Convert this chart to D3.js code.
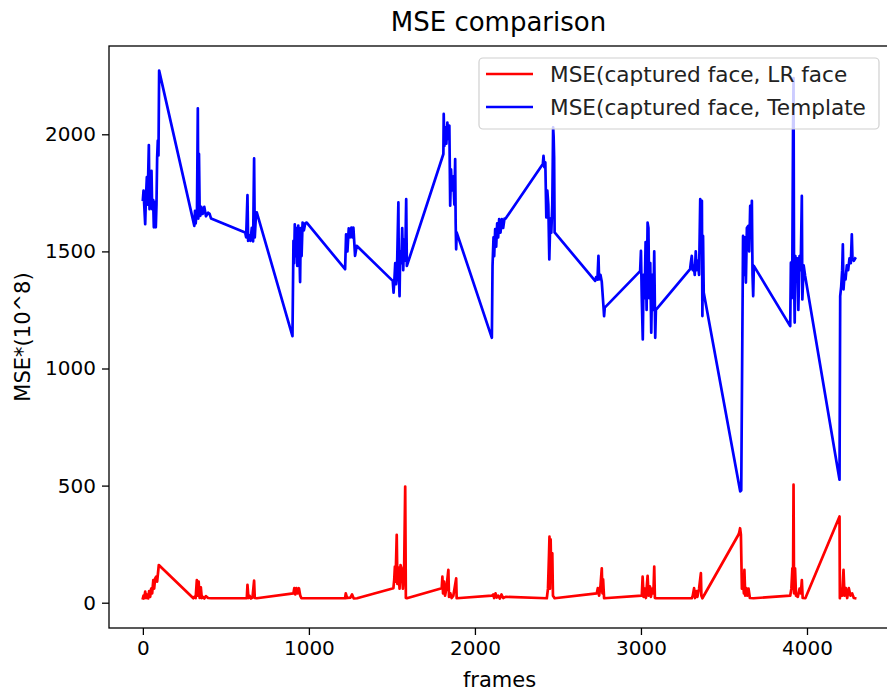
<!DOCTYPE html>
<html>
<head>
<meta charset="utf-8">
<script src="https://cdn.jsdelivr.net/npm/d3@7"></script>
<style>
  html, body { margin: 0; padding: 0; background: #fff; }
  svg { display: block; font-family: "DejaVu Sans", sans-serif; }
</style>
</head>
<body>
<svg id="chart" width="887" height="693"></svg>
<script>
// ---------------- data ----------------
const chartTitle = "MSE comparison";
const xLabel = "frames";
const yLabel = "MSE*(10^8)";
const seriesNames = ["MSE(captured face, LR face", "MSE(captured face, Template"];
const seriesColors = ["#ff0000", "#0000ff"];
const xTicks = [0, 1000, 2000, 3000, 4000];
const yTicks = [0, 500, 1000, 1500, 2000];

// series 1: MSE(captured face, LR face)
const framesLR = [
  0,4,8,14,20,26,32,38,44,50,56,63,68,74,80,86,96,
  304,310,318,325,330,336,342,349,355,362,370,380,393,411,
  626,630,636,642,650,660,670,674,686,
  907,912,918,925,932,940,948,955,987,
  1218,1222,1230,1250,1260,1270,1290,
  1509,1514,1518,1522,1529,1533,1540,1546,1552,1560,1566,1574,1580,1584,1590,
  1800,1804,1808,1814,1820,1828,1840,1844,1852,1860,1870,1887,1890,
  2102,2110,2116,2124,2132,2140,2150,2160,2170,2185,
  2433,2440,2446,2449,2452,2456,2460,2466,2470,2480,
  2734,2740,2748,2756,2764,2768,2772,2778,
  3005,3010,3016,3024,3030,3040,3046,3054,3060,3068,3075,3080,3084,3090,
  3306,3312,3320,3326,3334,3340,3350,3361,3364,3370,
  3587,3592,3597,3602,3608,3614,3620,3623,3628,3634,3640,3648,3656,3678,
  3899,3906,3912,3916,3919,3922,3928,3934,3945,3955,3963,3969,3974,3990,
  4196,4198,4204,4212,4220,4226,4234,4242,4252,4262,4272,4282,4290
];
const mseLR = [
  19,30,19,47,20,35,18,50,25,60,40,97,60,104,111,90,161,
  19,25,20,97,30,90,20,66,20,25,18,28,20,19,
  19,76,20,30,18,22,94,20,19,
  40,62,35,62,40,62,30,19,19,
  19,40,20,22,35,18,19,
  62,100,154,90,290,80,150,60,161,140,60,161,496,20,19,
  62,111,40,90,30,60,140,25,40,20,30,104,19,
  30,35,20,40,22,30,18,35,20,25,
  19,60,200,282,60,270,100,211,30,19,
  40,62,30,70,147,40,100,19,
  30,111,25,60,20,115,30,70,25,60,40,154,20,19,
  19,30,62,20,50,25,60,126,30,19,
  290,300,318,290,60,100,40,140,30,62,30,60,20,19,
  30,60,147,80,504,40,147,30,25,60,40,97,20,19,
  368,19,60,30,140,30,62,20,62,30,40,20,19
];

// series 2: MSE(captured face, Template)
const framesTpl = [
  0,4,8,14,18,24,28,36,40,46,52,56,62,66,72,78,82,86,90,94,98,
  310,314,318,326,331,334,338,342,346,352,360,370,380,393,402,411,
  616,622,630,634,640,648,656,664,670,674,680,686,
  901,907,911,915,920,925,930,936,942,947,951,956,962,970,978,987,
  1218,1224,1232,1240,1248,1256,1262,1268,1278,1288,
  1505,1510,1515,1520,1525,1530,1539,1542,1546,1550,1556,1562,1568,1574,1580,1586,1590,
  1810,1812,1816,1822,1828,1834,1840,1846,1851,1856,1862,1870,1876,1881,1884,1887,1890,
  2102,2106,2112,2116,2122,2128,2134,2140,2146,2154,2162,2170,2178,2185,
  2409,2413,2418,2424,2430,2436,2442,2448,2454,2460,2466,2471,2474,2477,2480,
  2724,2730,2738,2744,2748,2756,2764,2774,2778,2782,
  2995,3000,3005,3011,3016,3022,3028,3034,3040,3045,3050,3056,3062,3068,3074,3080,3086,3090,
  3296,3300,3306,3312,3318,3324,3330,3336,3342,3350,3357,3362,3367,3370,3374,3378,
  3598,3604,3615,3620,3626,3632,3638,3646,3652,3658,3664,3668,3672,3676,3680,
  3899,3903,3908,3912,3916,3919,3922,3926,3930,3936,3942,3948,3955,3962,3969,3972,3980,3989,
  4196,4200,4206,4212,4216,4220,4226,4232,4240,4248,4256,4264,4270,4274,4282,4290
];
const mseTpl = [
  1720,1760,1700,1616,1720,1817,1700,1954,1680,1760,1844,1680,1720,1603,1710,1603,1700,1900,1973,1910,2272,
  1609,1673,1620,1680,2111,1640,1916,1680,1652,1690,1660,1690,1650,1665,1660,1640,
  1581,1560,1740,1545,1570,1545,1600,1543,1897,1560,1640,1667,
  1138,1545,1450,1616,1480,1600,1438,1610,1520,1369,1600,1480,1623,1590,1620,1623,
  1424,1573,1500,1598,1560,1602,1560,1602,1481,1524,
  1374,1324,1380,1450,1360,1400,1709,1400,1309,1500,1450,1600,1420,1550,1460,1723,1438,
  1916,2087,1950,2030,1960,2050,1980,2037,1695,1850,1760,1820,1700,1894,1620,1509,1581,
  1131,1438,1560,1480,1595,1520,1620,1560,1638,1580,1638,1600,1640,1640,
  1873,1908,1860,1880,1645,1760,1700,1466,1640,1580,1700,2030,1990,1900,1581,
  1374,1390,1380,1481,1380,1400,1370,1267,1224,1260,
  1416,1502,1300,1124,1400,1300,1540,1250,1623,1600,1300,1450,1153,1400,1250,1500,1131,1250,
  1424,1450,1481,1420,1440,1400,1500,1420,1460,1400,1723,1500,1716,1224,1566,1324,
  475,480,1566,1400,1560,1367,1600,1609,1500,1695,1560,1716,1400,1309,1438,
  1181,1452,1300,1480,2015,2240,1400,1196,1480,1400,1470,1250,1480,1420,1737,1295,1440,1395,
  525,1309,1350,1420,1530,1338,1400,1380,1440,1420,1470,1450,1573,1466,1460,1470
];

// ---------------- layout ----------------
const W = 887, H = 693;
const plot = { left: 109, right: 890, top: 46, bottom: 628 };
const xDomain = [-204, 4500];
const yDomain = [-108, 2377];

const svg = d3.select("#chart");
const x = d3.scaleLinear().domain(xDomain).range([plot.left, plot.right]);
const y = d3.scaleLinear().domain(yDomain).range([plot.bottom, plot.top]);

svg.append("defs").append("clipPath").attr("id", "plotclip")
  .append("rect").attr("x", plot.left).attr("y", plot.top)
  .attr("width", plot.right - plot.left).attr("height", plot.bottom - plot.top);

const line = d3.line().x(d => x(d[0])).y(d => y(d[1]));
const series = [
  d3.zip(framesLR, mseLR),
  d3.zip(framesTpl, mseTpl)
];

const g = svg.append("g").attr("clip-path", "url(#plotclip)");
series.forEach((s, i) => {
  g.append("path").datum(s).attr("d", line)
    .attr("fill", "none").attr("stroke", seriesColors[i])
    .attr("stroke-width", 2.7).attr("stroke-linejoin", "round").attr("stroke-linecap", "square");
});

// axes
const fontSize = 20;
const xAxis = d3.axisBottom(x).tickValues(xTicks).tickFormat(d3.format("d")).tickSize(7).tickPadding(6);
const yAxis = d3.axisLeft(y).tickValues(yTicks).tickFormat(d3.format("d")).tickSize(7).tickPadding(6);
const gx = svg.append("g").attr("transform", `translate(0,${plot.bottom})`).call(xAxis);
const gy = svg.append("g").attr("transform", `translate(${plot.left},0)`).call(yAxis);
[gx, gy].forEach(a => {
  a.select(".domain").remove();
  a.selectAll(".tick line").attr("stroke", "#000").attr("stroke-width", 1.3);
  a.selectAll(".tick text").attr("fill", "#000").style("font-size", fontSize + "px")
    .style("font-family", "DejaVu Sans, sans-serif");
});

// spines
svg.append("rect").attr("x", plot.left).attr("y", plot.top)
  .attr("width", plot.right - plot.left).attr("height", plot.bottom - plot.top)
  .attr("fill", "none").attr("stroke", "#000").attr("stroke-width", 1.3);

// title & labels
svg.append("text").attr("x", (plot.left + plot.right) / 2 - 1).attr("y", 31)
  .attr("text-anchor", "middle").style("font-size", "26px").text(chartTitle);
svg.append("text").attr("x", (plot.left + plot.right) / 2).attr("y", 687)
  .attr("text-anchor", "middle").style("font-size", "21px").text(xLabel);
svg.append("text").attr("transform", `translate(30,${(plot.top + plot.bottom) / 2}) rotate(-90)`)
  .attr("text-anchor", "middle").style("font-size", "21px").text(yLabel);

// legend
const leg = svg.append("g");
leg.append("rect").attr("x", 479).attr("y", 58).attr("width", 400).attr("height", 71)
  .attr("rx", 4).attr("fill", "#fff").attr("fill-opacity", 0.8)
  .attr("stroke", "#d0d0d0").attr("stroke-width", 1.2);
seriesNames.forEach((name, i) => {
  const ly = 74 + i * 33;
  leg.append("line").attr("x1", 486).attr("x2", 533).attr("y1", ly).attr("y2", ly)
    .attr("stroke", seriesColors[i]).attr("stroke-width", 2.7);
  leg.append("text").attr("x", 550).attr("y", ly).attr("dy", "0.36em")
    .style("font-size", "21.6px").attr("fill", "#222").text(name);
});
</script>
</body>
</html>
